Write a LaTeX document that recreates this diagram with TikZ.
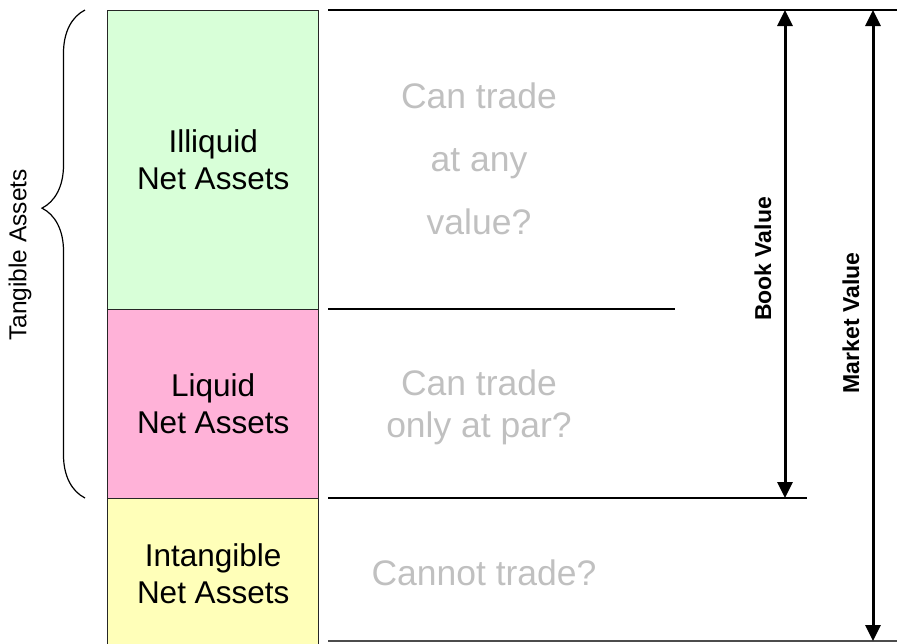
\documentclass[tikz,border=0pt]{standalone}
\usepackage{fontspec}
\setmainfont{Liberation Sans}
\usetikzlibrary{arrows.meta,decorations.pathreplacing}
\definecolor{illiquidfill}{RGB}{216,255,216}
\definecolor{liquidfill}{RGB}{255,178,216}
\definecolor{intangfill}{RGB}{255,255,185}
\definecolor{softgray}{RGB}{192,192,192}
\begin{document}
\begin{tikzpicture}[x=1pt,y=-1pt,
  block/.style={draw=black!85,line width=1.3pt,anchor=north west,
    minimum width=211pt,inner sep=0pt,align=center,
    font=\fontsize{31.5}{37}\selectfont},
  note/.style={text=softgray,align=center},
  rule/.style={line width=1.2pt},
  measure/.style={line width=3pt,{Triangle[width=15pt,length=16pt]}-{Triangle[width=15pt,length=16pt]}},
  vlabel/.style={rotate=90,font=\bfseries\fontsize{23}{27}\selectfont}]
\useasboundingbox (0,0) rectangle (897,643);

% stacked asset blocks
\node[block,fill=illiquidfill,minimum height=299pt] (ill) at (107,10) {Illiquid\\Net Assets};
\node[block,fill=liquidfill,minimum height=189pt] (liq) at (107,309) {Liquid\\Net Assets};
\node[block,fill=intangfill,minimum height=150pt] (int) at (107,498) {Intangible\\Net Assets};

% horizontal reference rules
\coordinate (t1) at (328,10);   \coordinate (t2) at (897,10);
\coordinate (m1) at (328,309);  \coordinate (m2) at (675,309);
\coordinate (b1) at (328,498);  \coordinate (b2) at (807,498);
\coordinate (z1) at (328,641);  \coordinate (z2) at (897,641);
\draw[rule] (t1) -- (t2);
\draw[rule] (m1) -- (m2);
\draw[rule] (b1) -- (b2);
\draw[rule,black!70] (z1) -- (z2);

% questions
\node[note,font=\fontsize{35.5}{63}\selectfont] (q1) at (479,159) {Can trade\\at any\\value?};
\node[note,font=\fontsize{35.5}{42}\selectfont] (q2) at (479,407) {Can trade\\only at par?};
\node[note,font=\fontsize{35.5}{42}\selectfont] (q3) at (484,573) {Cannot trade?};

% value arrows
\coordinate (bvT) at (785,10);  \coordinate (bvB) at (785,498);
\coordinate (mvT) at (873,10);  \coordinate (mvB) at (873,641);
\draw[measure] (bvT) -- (bvB);
\draw[measure] (mvT) -- (mvB);
\node[vlabel] (bv) at (763,259) {Book Value};
\node[vlabel] (mv) at (851,323) {Market Value};

% tangible brace
\coordinate (brB) at (85,498); \coordinate (brT) at (85,10);
\draw[line width=1.2pt,decorate,decoration={brace,amplitude=43pt,aspect=0.594}] (brB) -- (brT);
\node[rotate=90,font=\fontsize{24.5}{29}\selectfont] (ta) at (20,255) {Tangible Assets};
\end{tikzpicture}
\end{document}
